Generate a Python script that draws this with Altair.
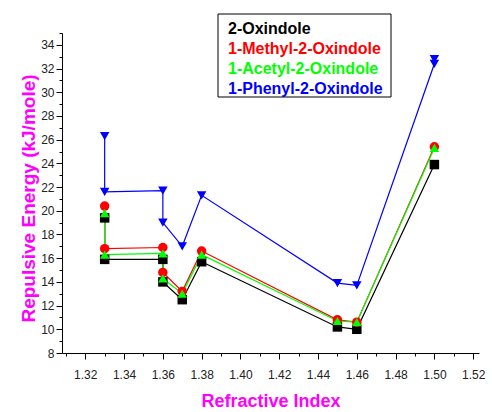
import altair as alt
import pandas as pd

series_names = ["2-Oxindole", "1-Methyl-2-Oxindole", "1-Acetyl-2-Oxindole", "1-Phenyl-2-Oxindole"]
series_colors = ["#000000", "#ff0000", "#00ff00", "#0000ff"]
series_shapes = ["square", "circle", "triangle-up", "triangle-down"]

x_common = [1.33, 1.33, 1.36, 1.36, 1.37, 1.38, 1.45, 1.46, 1.50]
x_phenyl = [1.33, 1.33, 1.36, 1.36, 1.37, 1.38, 1.45, 1.46, 1.50, 1.50]

y_oxindole = [19.4, 15.9, 15.9, 14.0, 12.5, 15.7, 10.2, 10.0, 23.9]
y_methyl = [20.4, 16.8, 16.9, 14.8, 13.2, 16.6, 10.8, 10.6, 25.4]
y_acetyl = [19.8, 16.3, 16.4, 14.3, 13.0, 16.3, 10.7, 10.6, 25.3]
y_phenyl = [26.3, 21.6, 21.7, 19.0, 17.0, 21.3, 13.9, 13.7, 32.4, 32.8]

x_major = [1.32, 1.34, 1.36, 1.38, 1.40, 1.42, 1.44, 1.46, 1.48, 1.50, 1.52]
x_minor = [1.31, 1.33, 1.35, 1.37, 1.39, 1.41, 1.43, 1.45, 1.47, 1.49, 1.51]
y_major = [8, 10, 12, 14, 16, 18, 20, 22, 24, 26, 28, 30, 32, 34]
y_minor = [9, 11, 13, 15, 17, 19, 21, 23, 25, 27, 29, 31, 33, 35]

rows = []
for name, xs, ys in [
    (series_names[0], x_common, y_oxindole),
    (series_names[1], x_common, y_methyl),
    (series_names[2], x_common, y_acetyl),
    (series_names[3], x_phenyl, y_phenyl),
]:
    for i, (xv, yv) in enumerate(zip(xs, ys)):
        rows.append({"series": name, "ri": xv, "energy": yv, "order": i})
df = pd.DataFrame(rows)

FONT = "Liberation Sans"
x_scale = alt.Scale(domain=[1.308, 1.523], nice=False, zero=False)
y_scale = alt.Scale(domain=[8, 35], nice=False, zero=False)

x_enc = alt.X(
    "ri:Q", scale=x_scale,
    axis=alt.Axis(
        orient="bottom", values=x_major, tickCount=100, format=".2f", tickSize=6, grid=False,
        title="Refractive Index", titleColor="#ff00ff", titleFont=FONT,
        titleFontSize=18, titleFontWeight="bold", titlePadding=12,
        labelFont=FONT, labelFontSize=12, labelColor="#222222", labelPadding=10,
        labelFlush=False, labelOverlap=False, domainColor="#000000", tickColor="#000000",
    ),
)
y_enc = alt.Y(
    "energy:Q", scale=y_scale,
    axis=alt.Axis(
        orient="left", values=y_major, tickCount=100, format="d", tickSize=6, grid=False,
        title="Repulsive Energy (kJ/mole)", titleColor="#ff00ff", titleFont=FONT,
        titleFontSize=19, titleFontWeight="bold", titlePadding=2, titleY=165,
        labelFont=FONT, labelFontSize=12, labelColor="#222222", labelPadding=2,
        labelFlush=False, labelOverlap=False, domainColor="#000000", tickColor="#000000",
    ),
)
color_enc = alt.Color("series:N", scale=alt.Scale(domain=series_names, range=series_colors), legend=None)
shape_enc = alt.Shape("series:N", scale=alt.Scale(domain=series_names, range=series_shapes), legend=None)

base = alt.Chart(df)

minor = base.mark_point(opacity=0).encode(
    x=alt.X("ri:Q", scale=x_scale, axis=alt.Axis(
        orient="bottom", values=x_minor, tickCount=100, tickSize=3, labels=False, domain=False,
        grid=False, title=None, tickColor="#000000")),
    y=alt.Y("energy:Q", scale=y_scale, axis=alt.Axis(
        orient="left", values=y_minor, tickCount=100, tickSize=3, labels=False, domain=False,
        grid=False, title=None, tickColor="#000000")),
)

lines = base.mark_line(strokeWidth=1.2).encode(
    x=x_enc, y=y_enc, color=color_enc, detail="series:N", order="order:Q"
)
points = base.mark_point(filled=True, size=90, opacity=1).encode(
    x="ri:Q", y="energy:Q", color=color_enc, shape=shape_enc
)

box = alt.Chart(pd.DataFrame({"a": [0]})).mark_rect(
    fill="white", stroke="#000000", strokeWidth=1
).encode(x=alt.value(156), x2=alt.value(329), y=alt.value(-19), y2=alt.value(64))

legend_layers = []
for i, (name, col) in enumerate(zip(series_names, series_colors)):
    legend_layers.append(
        alt.Chart(pd.DataFrame({"label": [name]})).mark_text(
            align="left", baseline="middle", font=FONT, fontSize=16,
            fontWeight="bold", color=col
        ).encode(x=alt.value(166), y=alt.value(-4 + 20 * i), text="label:N")
    )

main = alt.layer(lines, points)
chart = alt.layer(main, minor, box, *legend_layers).resolve_axis(
    x="independent", y="independent"
).properties(
    width=417, height=320,
    autosize=alt.AutoSizeParams(type="none"),
    padding={"left": 62, "top": 33, "right": 13, "bottom": 59},
).configure_view(stroke=None).configure_axis(domainWidth=1, tickWidth=1)

chart.save("out.html", embed_options={"renderer": "svg", "actions": False})
